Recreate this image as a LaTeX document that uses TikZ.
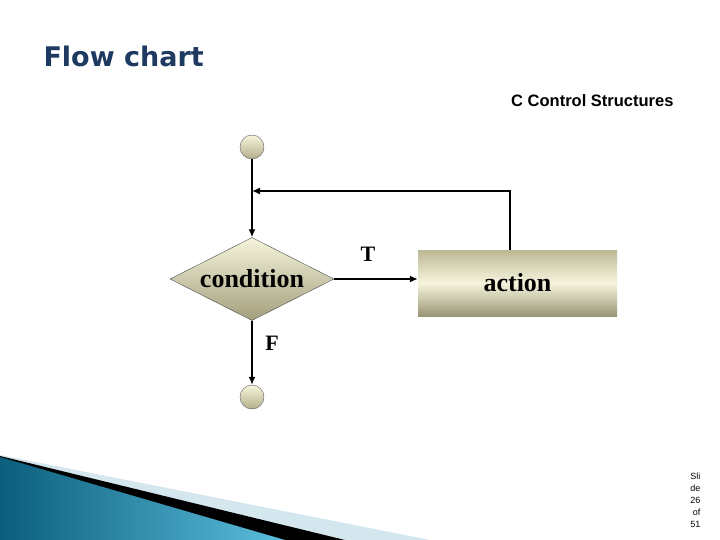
\documentclass[tikz,border=0pt]{standalone}
\usepackage{fontspec}
\setmainfont{Liberation Serif}
\newfontfamily\arial{Liberation Sans}
\newfontfamily\titlefont{DejaVu Sans}
\usetikzlibrary{shapes.geometric,arrows.meta}
\definecolor{titleblue}{HTML}{1F3A60}
\definecolor{beigeL}{HTML}{F6F4DC}
\definecolor{beigeD}{HTML}{B4B08A}
\definecolor{tealD}{HTML}{0B5E7C}
\definecolor{tealL}{HTML}{5CBEDD}
\definecolor{paleblue}{HTML}{D4E6EE}
\begin{document}
\begin{tikzpicture}[x=1pt,y=-1pt,
  flow/.style={draw=black,line width=1.5pt,-{Latex[length=8pt,width=7pt]}},
  term/.style={circle,draw=gray!70!black,minimum size=24pt,inner sep=0pt,top color=beigeL,bottom color=beigeD},
  dec/.style={diamond,draw=gray!60!black,aspect=1.98,minimum width=164pt,minimum height=83pt,inner sep=0pt,top color=beigeL,bottom color=beigeD!90!black,font=\bfseries\fontsize{26}{28}\selectfont},
  act/.style={rectangle,minimum width=199pt,minimum height=66pt,inner sep=0pt,top color=beigeD!90,bottom color=beigeD!85!black,middle color=beigeL,font=\bfseries\fontsize{26}{28}\selectfont},
  lbl/.style={font=\bfseries\fontsize{22}{24}\selectfont}]
\useasboundingbox (0,0) rectangle (720,540);
\fill[white] (0,0) rectangle (720,540);
% bottom decoration
\fill[paleblue] (0,455) -- (430,540) -- (0,540) -- cycle;
\fill[black] (0,456) -- (345,540) -- (0,540) -- cycle;
\shade[left color=tealD,right color=tealL] (0,457) -- (285,540) -- (0,540) -- cycle;
\node[anchor=west,text=titleblue,font=\titlefont\bfseries\fontsize{27}{29}\selectfont] (title) at (40,56) {Flow chart};
\node[anchor=east,font=\arial\bfseries\fontsize{16.5}{18}\selectfont] (sub) at (677,101) {C Control Structures};
\node[anchor=east,align=right,font=\arial\fontsize{9}{12}\selectfont] (slide) at (704,500) {Sli\\de\\26\\of\\51};
\node[term] (start) at (252,147) {};
\node[dec] (cond) at (252,279) {condition};
\node[act] (action) at (517.5,283) {action};
\node[term] (stop) at (252,397) {};
\coordinate (join) at (252,191);
\coordinate (up) at (510,191);
\draw[flow] (start) -- (cond.north);
\draw[flow] (action.north -| up) -- (up) -- (join);
\draw[flow] (cond.east) -- (cond.east -| action.west);
\draw[flow] (cond.south) -- (stop.north);
\node[lbl] (t) at (368,254) {T};
\node[lbl] (f) at (272,343) {F};
\end{tikzpicture}
\end{document}
